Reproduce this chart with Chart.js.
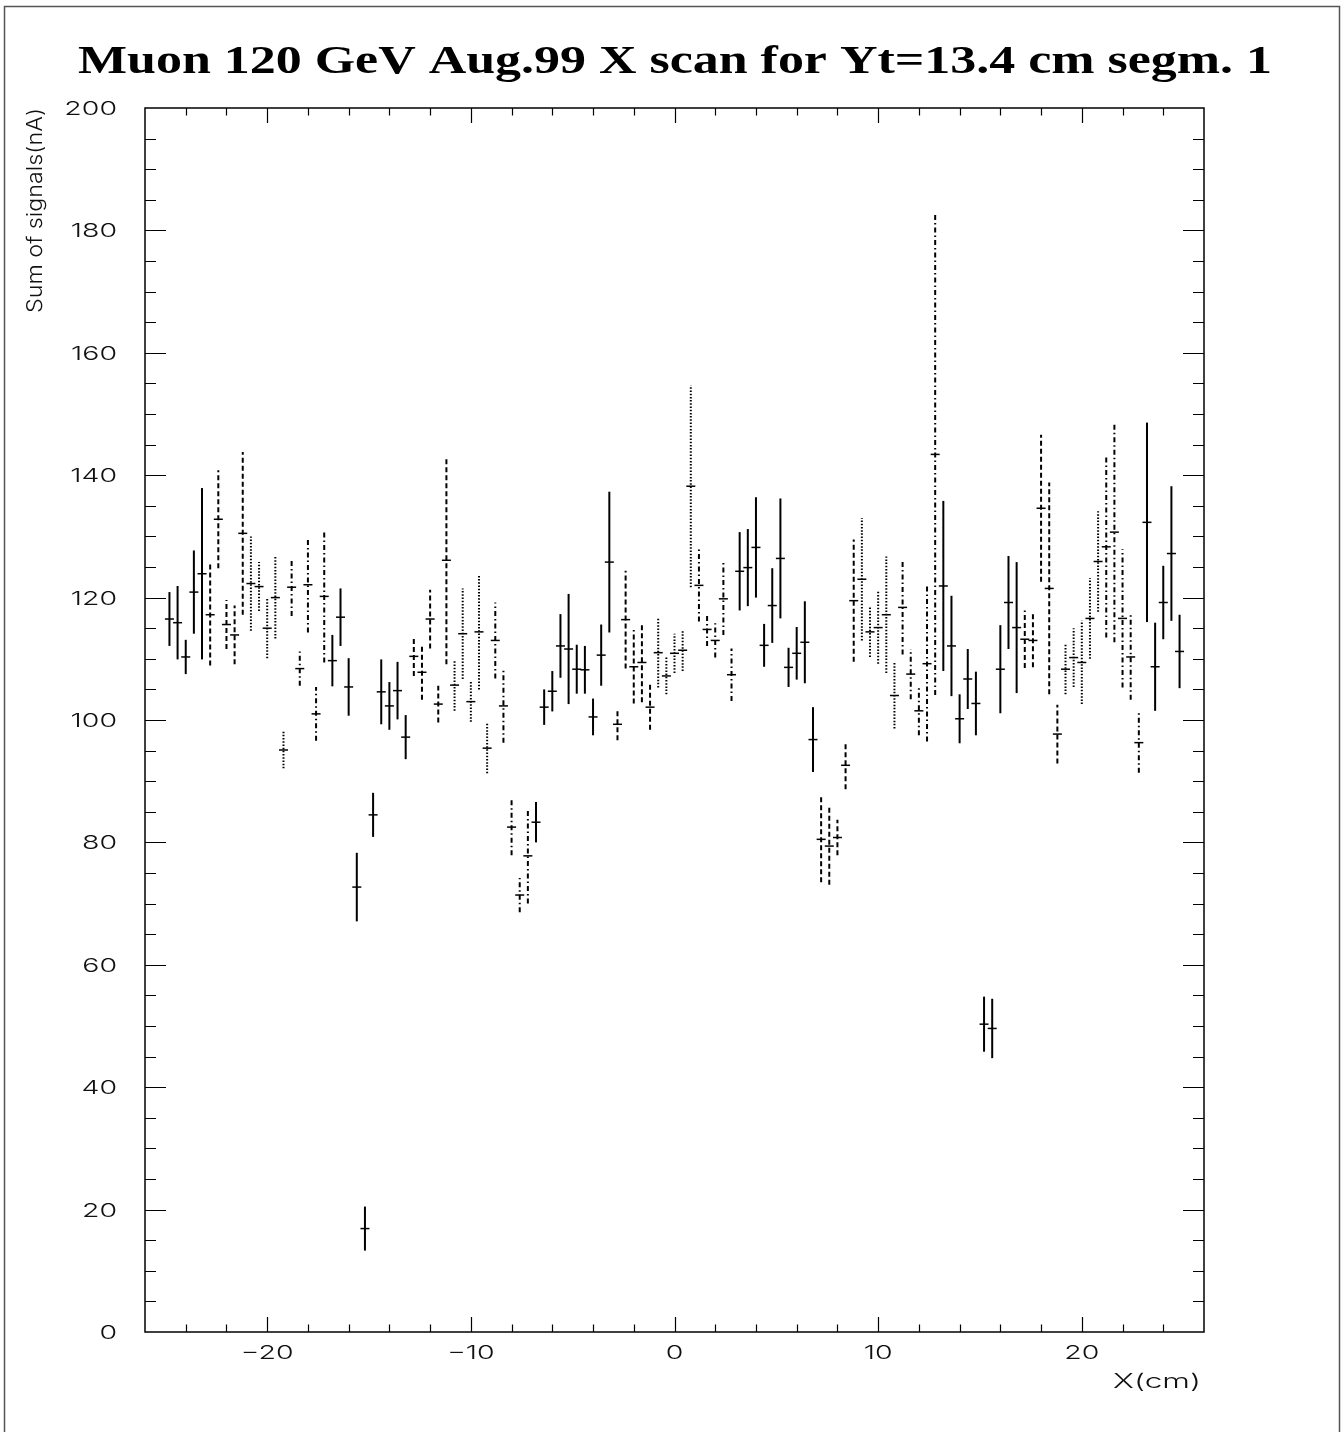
<!DOCTYPE html>
<html>
<head>
<meta charset="utf-8">
<title>Muon 120 GeV X scan</title>
<script src="https://cdn.jsdelivr.net/npm/chart.js@4.4.0/dist/chart.umd.min.js"></script>
<style>
  html, body { margin: 0; padding: 0; background: #fff; }
  #wrap { width: 1343px; height: 1432px; position: relative; }
</style>
</head>
<body>
<div id="wrap"><canvas id="scanChart"></canvas></div>
<script>
// scan positions (cm)
const xPos = [
  -24.8, -24.4, -24.0, -23.6, -23.2, -22.8, -22.4, -22.0, -21.6, -21.2,
  -20.8, -20.4, -20.0, -19.6, -19.2, -18.8, -18.4, -18.0, -17.6, -17.2,
  -16.8, -16.4, -16.0, -15.6, -15.2, -14.8, -14.4, -14.0, -13.6, -13.2,
  -12.8, -12.4, -12.0, -11.6, -11.2, -10.8, -10.4, -10.0, -9.6, -9.2,
  -8.8, -8.4, -8.0, -7.6, -7.2, -6.8, -6.4, -6.0, -5.6, -5.2,
  -4.8, -4.4, -4.0, -3.6, -3.2, -2.8, -2.4, -2.0, -1.6, -1.2,
  -0.8, -0.4, 0.0, 0.4, 0.8, 1.2, 1.6, 2.0, 2.4, 2.8,
  3.2, 3.6, 4.0, 4.4, 4.8, 5.2, 5.6, 6.0, 6.4, 6.8,
  7.2, 7.6, 8.0, 8.4, 8.8, 9.2, 9.6, 10.0, 10.4, 10.8,
  11.2, 11.6, 12.0, 12.4, 12.8, 13.2, 13.6, 14.0, 14.4, 14.8,
  15.2, 15.6, 16.0, 16.4, 16.8, 17.2, 17.6, 18.0, 18.4, 18.8,
  19.2, 19.6, 20.0, 20.4, 20.8, 21.2, 21.6, 22.0, 22.4, 22.8,
  23.2, 23.6, 24.0, 24.4, 24.8
];

// sum of signals (nA)
const sumSignal = [
  116.5, 115.9, 110.3, 120.9, 123.9, 117.2, 132.8, 115.6, 113.9, 130.5,
  122.3, 121.8, 115.0, 120.0, 95.1, 121.7, 108.4, 122.1, 101.0, 120.2,
  109.7, 116.8, 105.4, 72.7, 16.9, 84.5, 104.6, 102.3, 104.8, 97.2,
  110.4, 107.8, 116.5, 102.6, 126.1, 105.7, 114.1, 103.0, 114.4, 95.4,
  113.0, 102.3, 82.5, 71.4, 77.8, 83.3, 102.1, 104.7, 112.1, 111.6,
  108.3, 108.2, 100.5, 110.6, 125.8, 99.3, 116.4, 108.7, 109.4, 102.1,
  111.0, 107.2, 110.9, 111.4, 138.2, 122.0, 114.8, 113.0, 119.8, 107.4,
  124.3, 124.9, 128.2, 112.2, 118.7, 126.4, 108.6, 110.9, 112.7, 96.8,
  80.5, 79.4, 80.8, 92.6, 119.5, 123.0, 114.4, 115.1, 117.2, 104.0,
  118.4, 107.5, 101.5, 109.2, 143.4, 121.9, 112.1, 100.2, 106.7, 102.7,
  50.3, 49.6, 108.3, 119.2, 115.1, 113.2, 113.0, 134.6, 121.5, 97.7,
  108.3, 110.2, 109.4, 116.6, 125.9, 128.3, 130.7, 116.6, 110.3, 96.3,
  132.3, 108.7, 119.2, 127.2, 111.2
];

// error on the sum (nA)
const sumError = [
  4.4, 6.0, 2.8, 6.8, 14.0, 8.3, 8.0, 4.0, 4.8, 13.3,
  7.7, 4.0, 4.9, 6.7, 3.0, 4.7, 2.8, 7.8, 4.4, 10.8,
  4.2, 4.7, 4.7, 5.6, 3.6, 3.6, 5.3, 3.9, 4.7, 3.6,
  3.2, 4.5, 4.8, 3.0, 17.0, 4.2, 7.4, 3.3, 9.4, 4.1,
  6.2, 6.0, 4.6, 2.8, 7.8, 3.3, 2.9, 3.3, 5.2, 9.0,
  4.0, 3.9, 3.0, 5.0, 11.5, 2.6, 8.0, 6.0, 6.5, 3.7,
  5.7, 3.0, 3.2, 3.4, 16.5, 5.9, 2.7, 2.8, 5.9, 4.3,
  6.4, 6.3, 8.2, 3.5, 6.1, 9.8, 3.2, 4.3, 6.7, 5.3,
  7.0, 6.3, 2.9, 3.9, 10.0, 10.0, 4.1, 5.9, 9.5, 5.4,
  7.7, 4.1, 4.0, 12.7, 39.3, 13.9, 8.2, 4.0, 4.9, 5.2,
  4.5, 4.85, 7.2, 7.6, 10.7, 4.7, 4.4, 12.0, 17.3, 4.8,
  4.1, 4.8, 6.8, 6.6, 8.2, 14.8, 18.0, 11.3, 7.0, 4.9,
  16.3, 7.2, 6.0, 11.0, 6.0
];

const xTickLabels = [-20, -10, 0, 10, 20];
const yTickLabels = [0, 20, 40, 60, 80, 100, 120, 140, 160, 180, 200];

const titleText = 'Muon 120 GeV Aug.99 X scan for Yt=13.4 cm segm. 1';
const yTitle = 'Sum of signals(nA)';
const xTitle = 'X(cm)';

// line style of each block of five scan points
const blockStyle = [
  'solid', 'dashed', 'dotted', 'dashdot', 'solid',
  'solid', 'dashed', 'dotted', 'dashdot', 'solid',
  'solid', 'dashed', 'dotted', 'dashdot', 'solid',
  'solid', 'dashed', 'dotted', 'dashdot', 'solid',
  'solid', 'dashed', 'dotted', 'dashdot', 'solid'
];
const lineStyles = {
  solid:   { dash: [],           width: 2 },
  dashed:  { dash: [5, 3],       width: 2 },
  dotted:  { dash: [1.5, 1.7],   width: 2 },
  dashdot: { dash: [5, 3, 1.5, 3], width: 2 }
};

const errorSets = xPos.map((x, i) => {
  const st = lineStyles[blockStyle[Math.floor(i / 5)]];
  return {
    type: 'scatter',
    showLine: true,
    data: [
      { x: x, y: sumSignal[i] - sumError[i] },
      { x: x, y: sumSignal[i] + sumError[i] }
    ],
    borderColor: '#000',
    borderWidth: st.width,
    borderDash: st.dash,
    pointRadius: 0,
    pointHoverRadius: 0
  };
});

const centreSet = {
  type: 'scatter',
  data: xPos.map((x, i) => ({ x: x, y: sumSignal[i] })),
  pointStyle: 'line',
  pointRadius: 4.5,
  pointHoverRadius: 4.5,
  borderColor: '#000',
  backgroundColor: '#000',
  borderWidth: 1.5
};

const LABEL_FONT = '300 19px Inter, "DejaVu Sans", sans-serif';
const LABEL_STRETCH = 1.5;

function drawStretched(ctx, text, x, y, font, sx, align) {
  ctx.save();
  ctx.font = font;
  ctx.translate(x, y);
  ctx.scale(sx, 1);
  ctx.textAlign = align;
  ctx.textBaseline = 'alphabetic';
  ctx.fillText(text, 0, 0);
  ctx.restore();
}

function fitScale(ctx, text, font, width) {
  ctx.save();
  ctx.font = font;
  const w = ctx.measureText(text).width;
  ctx.restore();
  return width / w;
}

// frame, inside ticks and all text in the ROOT style
const rootFrame = {
  id: 'rootFrame',
  afterDraw(chart) {
    const { ctx, chartArea: a, scales } = chart;
    const xs = scales.x, ys = scales.y;
    ctx.save();
    ctx.fillStyle = '#000';

    // pad border
    ctx.strokeStyle = '#555';
    ctx.lineWidth = 1.5;
    ctx.strokeRect(4.5, 6.5, 1335, 1500);

    // plot frame
    ctx.strokeStyle = '#000';
    ctx.lineWidth = 1.5;
    ctx.strokeRect(a.left, a.top, a.right - a.left, a.bottom - a.top);

    // x ticks, bottom and top
    ctx.lineWidth = 1.2;
    ctx.beginPath();
    for (let v = -24; v <= 24; v += 2) {
      const px = Math.round(xs.getPixelForValue(v)) + 0.5;
      const len = v % 10 === 0 ? 15 : 7.5;
      ctx.moveTo(px, a.bottom); ctx.lineTo(px, a.bottom - len);
      ctx.moveTo(px, a.top); ctx.lineTo(px, a.top + len);
    }
    // y ticks, left and right
    for (let v = 5; v < 200; v += 5) {
      const py = Math.round(ys.getPixelForValue(v)) + 0.5;
      const len = v % 20 === 0 ? 21 : 11;
      ctx.moveTo(a.left, py); ctx.lineTo(a.left + len, py);
      ctx.moveTo(a.right, py); ctx.lineTo(a.right - len, py);
    }
    ctx.stroke();

    // tick labels
    ctx.fillStyle = '#111';
    xTickLabels.forEach(v => {
      const txt = v < 0 ? '\u2212' + Math.abs(v) : String(v);
      drawStretched(ctx, txt, xs.getPixelForValue(v), a.bottom + 27, LABEL_FONT, LABEL_STRETCH, 'center');
    });
    yTickLabels.forEach(v => {
      drawStretched(ctx, String(v), a.left - 28, ys.getPixelForValue(v) + 7, LABEL_FONT, LABEL_STRETCH, 'right');
    });

    // axis titles
    const xtFont = '300 20px Inter, "DejaVu Sans", sans-serif';
    drawStretched(ctx, xTitle, a.right - 3, a.bottom + 56, xtFont,
      fitScale(ctx, xTitle, xtFont, 88), 'right');

    const ytFont = '300 21px Inter, "DejaVu Sans", sans-serif';
    ctx.save();
    ctx.translate(a.left - 103, a.top);
    ctx.rotate(-Math.PI / 2);
    drawStretched(ctx, yTitle, 0, 0, ytFont, fitScale(ctx, yTitle, ytFont, 205), 'right');
    ctx.restore();

    // main title
    ctx.fillStyle = '#000';
    const tFont = 'bold 40px "Liberation Serif", "Times New Roman", serif';
    drawStretched(ctx, titleText, 675, 73, tFont, fitScale(ctx, titleText, tFont, 1194), 'center');

    ctx.restore();
  }
};

const ctxEl = document.getElementById('scanChart');
new Chart(ctxEl, {
  data: { datasets: errorSets.concat([centreSet]) },
  options: {
    responsive: true,
    maintainAspectRatio: false,
    animation: false,
    events: [],
    layout: { padding: { left: 0, right: 139, top: 108, bottom: 0 } },
    plugins: {
      legend: { display: false },
      tooltip: { enabled: false },
      title: { display: false }
    },
    scales: {
      x: {
        type: 'linear',
        min: -26,
        max: 26,
        grid: { display: false },
        border: { display: false },
        ticks: { display: false },
        afterFit(scale) { scale.height = 100; }
      },
      y: {
        type: 'linear',
        min: 0,
        max: 200,
        grid: { display: false },
        border: { display: false },
        ticks: { display: false },
        afterFit(scale) { scale.width = 145; }
      }
    }
  },
  plugins: [rootFrame]
});
</script>
</body>
</html>
